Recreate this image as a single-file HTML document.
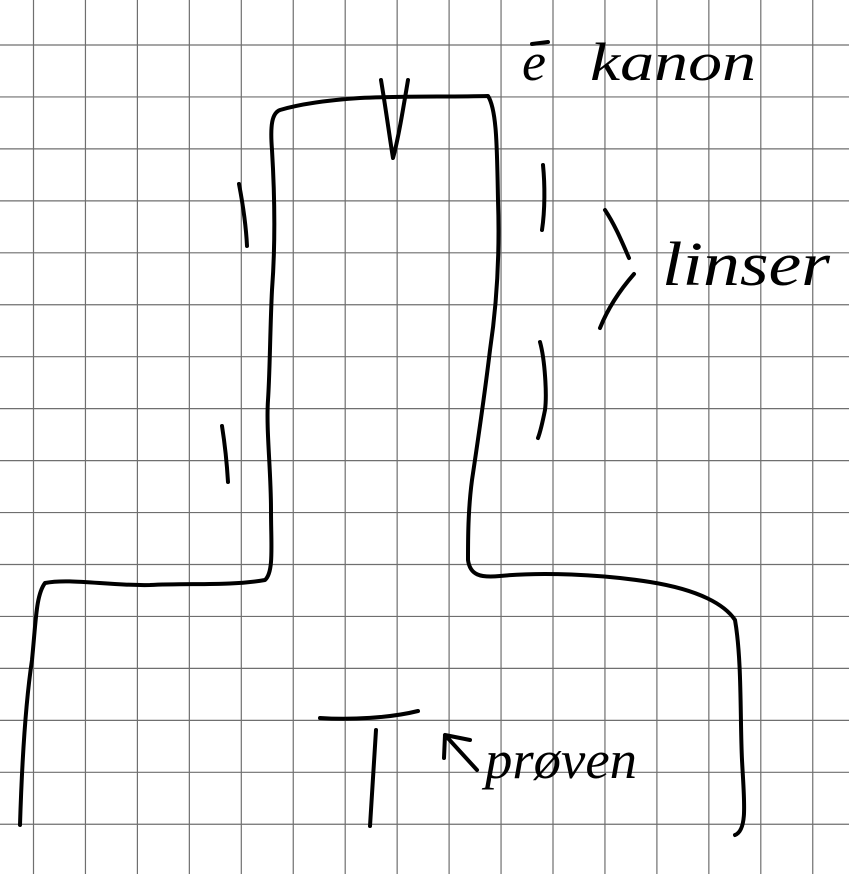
<!DOCTYPE html>
<html><head><meta charset="utf-8"><style>
html,body{margin:0;padding:0;background:#fff;}
svg{display:block;}
.ink{fill:none;stroke:#000;stroke-width:4;stroke-linecap:round;stroke-linejoin:round;}
.hand{font-family:"Liberation Serif",serif;font-style:italic;fill:#000;}
</style></head><body>
<svg width="849" height="874" viewBox="0 0 849 874">
<g id="grid" stroke="#6f6f6f" stroke-width="1.2"></g>
<path class="ink" d="M20,825 C22,760 26,700 32,660 C36,620 36,595 45,583 C70,578 110,586 150,585 C190,583 230,586 265,580 C274,572 271,545 271,510 C271,470 266,430 268,400 C270,370 270,330 272,290 C275,250 275,200 272,150 C270,125 272,113 280,110 C300,104 330,100 360,98 C400,96 450,97 488,96 C497,110 497,150 498,200 C500,260 496,310 490,350 C484,400 478,440 472,480 C468,510 468,540 468,560 C470,575 480,578 500,576 C540,572 600,574 650,582 C700,590 725,605 735,620 C742,660 740,720 742,760 C744,800 748,830 735,835"/>
<path class="ink" d="M381,80 C386,110 390,140 393,158 C398,140 403,110 408,80"/>
<path class="ink" d="M239,184 C243,205 246,225 247,246"/>
<path class="ink" d="M222,426 C225,445 227,465 228,482"/>
<path class="ink" d="M543,165 C545,185 545,210 542,230"/>
<path class="ink" d="M540,342 C545,360 547,395 545,410 C543,420 541,430 538,438"/>
<path class="ink" d="M605,210 C615,225 622,242 629,258"/>
<path class="ink" d="M634,274 C620,290 608,308 600,328"/>
<path class="ink" d="M320,718 C350,720 390,718 418,711"/>
<path class="ink" d="M370,826 C372,790 374,760 376,730"/>
<path class="ink" d="M477,770 L445,735 M445,735 L444,758 M445,735 L470,740"/>
<text class="hand" x="522" y="80" font-size="54">e</text>
<path class="ink" d="M532,44 L548,42"/>
<text class="hand" x="590" y="80" font-size="54" textLength="166" lengthAdjust="spacingAndGlyphs">kanon</text>
<text class="hand" x="662" y="285" font-size="62" textLength="168" lengthAdjust="spacingAndGlyphs">linser</text>
<text class="hand" x="485" y="778" font-size="54" textLength="152" lengthAdjust="spacingAndGlyphs">prøven</text>
</svg>
<script>
var g=document.getElementById('grid');
for(var x=33.5;x<849;x+=51.95){var l=document.createElementNS('http://www.w3.org/2000/svg','line');


l.setAttribute('x1',x);l.setAttribute('x2',x);l.setAttribute('y1',0);l.setAttribute('y2',874);g.appendChild(l);}
for(var y=45;y<874;y+=51.95){var l=document.createElementNS('http://www.w3.org/2000/svg','line');


l.setAttribute('x1',0);l.setAttribute('x2',849);l.setAttribute('y1',y);l.setAttribute('y2',y);g.appendChild(l);}
</script>
</body></html>
